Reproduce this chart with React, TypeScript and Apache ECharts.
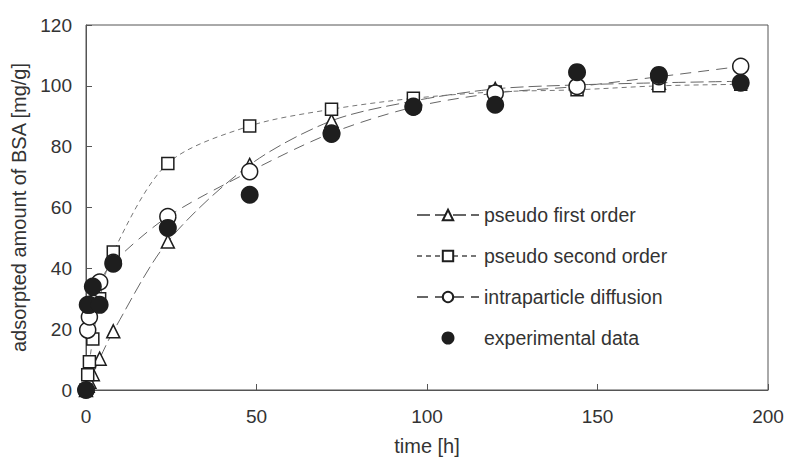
import React, { useEffect, useRef } from 'react';
import * as echarts from 'echarts';

const times = [0, 0.5, 1, 2, 4, 8, 24, 48, 72, 96, 120, 144, 168, 192];
const pseudoFirst = [0, 1.4, 2.7, 5.2, 10.3, 19.3, 48.8, 74, 88.5, 95, 99, 100.3, 101, 101.5];
const pseudoSecond = [0, 5, 9.3, 16.8, 30, 45.4, 74.5, 86.8, 92.3, 95.9, 98, 98.7, 100, 100.5];
const intraTimes = [0.5, 1, 2, 4, 8, 24, 48, 72, 96, 120, 144, 168, 192];
const intraparticle = [19.7, 24, 28.5, 35.5, 42, 57, 71.8, 84.5, 93, 97.6, 99.8, 103, 106.4];
const experimental = [0, 28, 28, 34, 28, 41.5, 53.3, 64.2, 84.2, 93.2, 93.8, 104.5, 103.6, 101];

const seriesNames = ['pseudo first order', 'pseudo second order', 'intraparticle diffusion', 'experimental data'];
const xTicks = { min: 0, max: 200, interval: 50 };
const yTicks = { min: 0, max: 120, interval: 20 };

const FONT = '"Liberation Sans", Arial, sans-serif';

function pairs(xs: number[], ys: number[]) {
  return xs.map((x, i) => [x, ys[i]]);
}

export default function App() {
  const ref = useRef<HTMLDivElement>(null);
  useEffect(() => {
    if (!ref.current) return;
    const chart = echarts.init(ref.current, undefined, { renderer: 'svg' });
    const lineColor = '#666';
    const markColor = '#1e1e1e';
    const hollow = (color: string) => ({ color: '#fff', borderColor: color, borderWidth: 1.5 });
    chart.setOption({
      animation: false,
      backgroundColor: '#fff',
      textStyle: { fontFamily: FONT, color: '#333' },
      grid: {
        left: 86, right: 23, top: 25, bottom: 69,
        show: true, borderColor: '#555', borderWidth: 1,
        outerBoundsMode: 'none', containLabel: false,
      },
      legend: {
        orient: 'vertical',
        left: 416,
        top: 205,
        padding: 0,
        itemWidth: 62,
        itemHeight: 13,
        itemGap: 21,
        data: [
          { name: seriesNames[0] },
          { name: seriesNames[1] },
          { name: seriesNames[2] },
          { name: seriesNames[3], icon: 'circle' },
        ],
        textStyle: { fontFamily: FONT, fontSize: 19.5, color: '#333' },
      },
      xAxis: {
        type: 'value',
        ...xTicks,
        name: 'time [h]',
        nameLocation: 'middle',
        nameGap: 46,
        nameTextStyle: { fontFamily: FONT, fontSize: 20, color: '#333' },
        axisLine: { lineStyle: { color: '#555' } },
        axisTick: { inside: true, length: 6, lineStyle: { color: '#555' } },
        axisLabel: { fontFamily: FONT, fontSize: 19, color: '#333', margin: 17 },
        splitLine: { show: false },
      },
      yAxis: {
        type: 'value',
        ...yTicks,
        name: 'adsorpted amount of BSA [mg/g]',
        nameLocation: 'middle',
        nameGap: 57,
        nameTextStyle: { fontFamily: FONT, fontSize: 20, color: '#333' },
        axisLine: { show: true, lineStyle: { color: '#555' } },
        axisTick: { show: true, inside: true, length: 6, lineStyle: { color: '#555' } },
        axisLabel: { fontFamily: FONT, fontSize: 19, color: '#333', margin: 14 },
        splitLine: { show: false },
      },
      series: [
        {
          name: seriesNames[0],
          type: 'line',
          data: pairs(times, pseudoFirst),
          smooth: 0.3,
          symbol: 'triangle',
          symbolSize: 13,
          lineStyle: { color: lineColor, width: 1, type: [13, 5] },
          itemStyle: hollow(markColor),
          z: 2,
        },
        {
          name: seriesNames[1],
          type: 'line',
          data: pairs(times, pseudoSecond),
          smooth: 0.3,
          symbol: 'rect',
          symbolSize: 12,
          lineStyle: { color: '#777', width: 1, type: [5, 4] },
          itemStyle: hollow(markColor),
          z: 3,
        },
        {
          name: seriesNames[2],
          type: 'line',
          data: pairs(intraTimes, intraparticle),
          smooth: 0.3,
          symbol: 'circle',
          symbolSize: 16,
          lineStyle: { color: lineColor, width: 1, type: [11, 7] },
          itemStyle: hollow(markColor),
          z: 4,
        },
        {
          name: seriesNames[3],
          type: 'scatter',
          data: pairs(times, experimental),
          symbol: 'circle',
          symbolSize: 18,
          itemStyle: { color: markColor, opacity: 1 },
          z: 5,
        },
      ],
    });
    return () => chart.dispose();
  }, []);
  return <div ref={ref} style={{ position: 'fixed', left: 0, top: 0, width: 791, height: 459 }} />;
}
